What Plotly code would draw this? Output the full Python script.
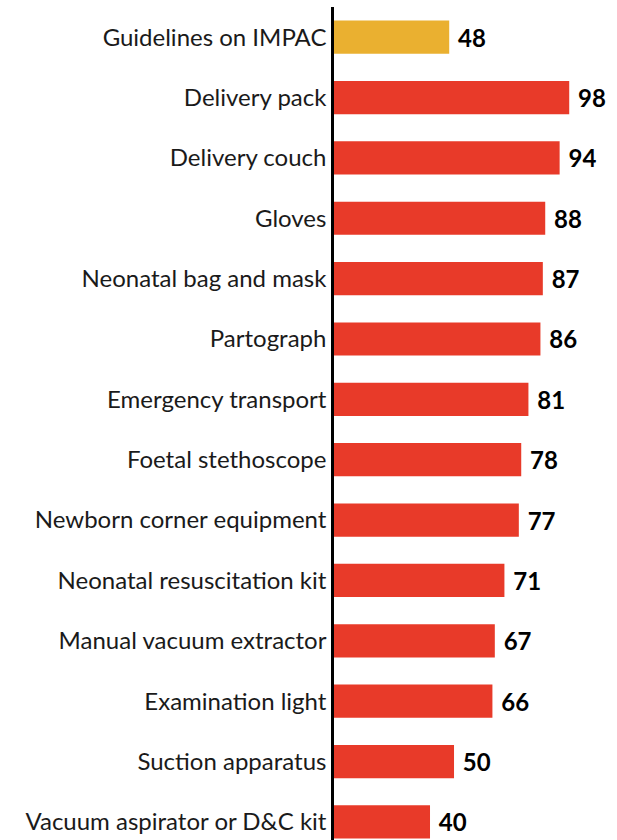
import plotly.graph_objects as go

items = ['Guidelines on IMPAC', 'Delivery pack', 'Delivery couch', 'Gloves',
         'Neonatal bag and mask', 'Partograph', 'Emergency transport',
         'Foetal stethoscope', 'Newborn corner equipment',
         'Neonatal resuscitation kit', 'Manual vacuum extractor',
         'Examination light', 'Suction apparatus', 'Vacuum aspirator or D&C kit']
values = [48, 98, 94, 88, 87, 86, 81, 78, 77, 71, 67, 66, 50, 40]
bar_colors = ['#EAB030'] + ['#E83A29'] * 13

fig = go.Figure(go.Bar(
    x=values, y=items, orientation='h',
    marker=dict(color=bar_colors, line=dict(width=0)),
    text=values, texttemplate=' %{text}', textposition='outside', cliponaxis=False,
    textfont=dict(family='Lato', size=24, color='black', weight='bold'),
))

fig.update_layout(
    width=617, height=840,
    margin=dict(l=334, r=0, t=7, b=0),
    plot_bgcolor='white', paper_bgcolor='white',
    bargap=0.45, showlegend=False,
    font=dict(family='Lato', size=24, color='#1a1a1a'),
)
fig.update_xaxes(range=[0, 117.9], visible=False)
fig.update_yaxes(categoryorder='array', categoryarray=items, automargin=False,
                 range=[13.3, -0.5], showline=True, linecolor='black', linewidth=2.5,
                 ticks='', showgrid=False, ticklabelstandoff=0)

# page body has a default 8px margin, drop it so the figure fills the window
fig.write_html("out.html", config={'displayModeBar': False},
               post_script="document.body.style.margin='0';")
